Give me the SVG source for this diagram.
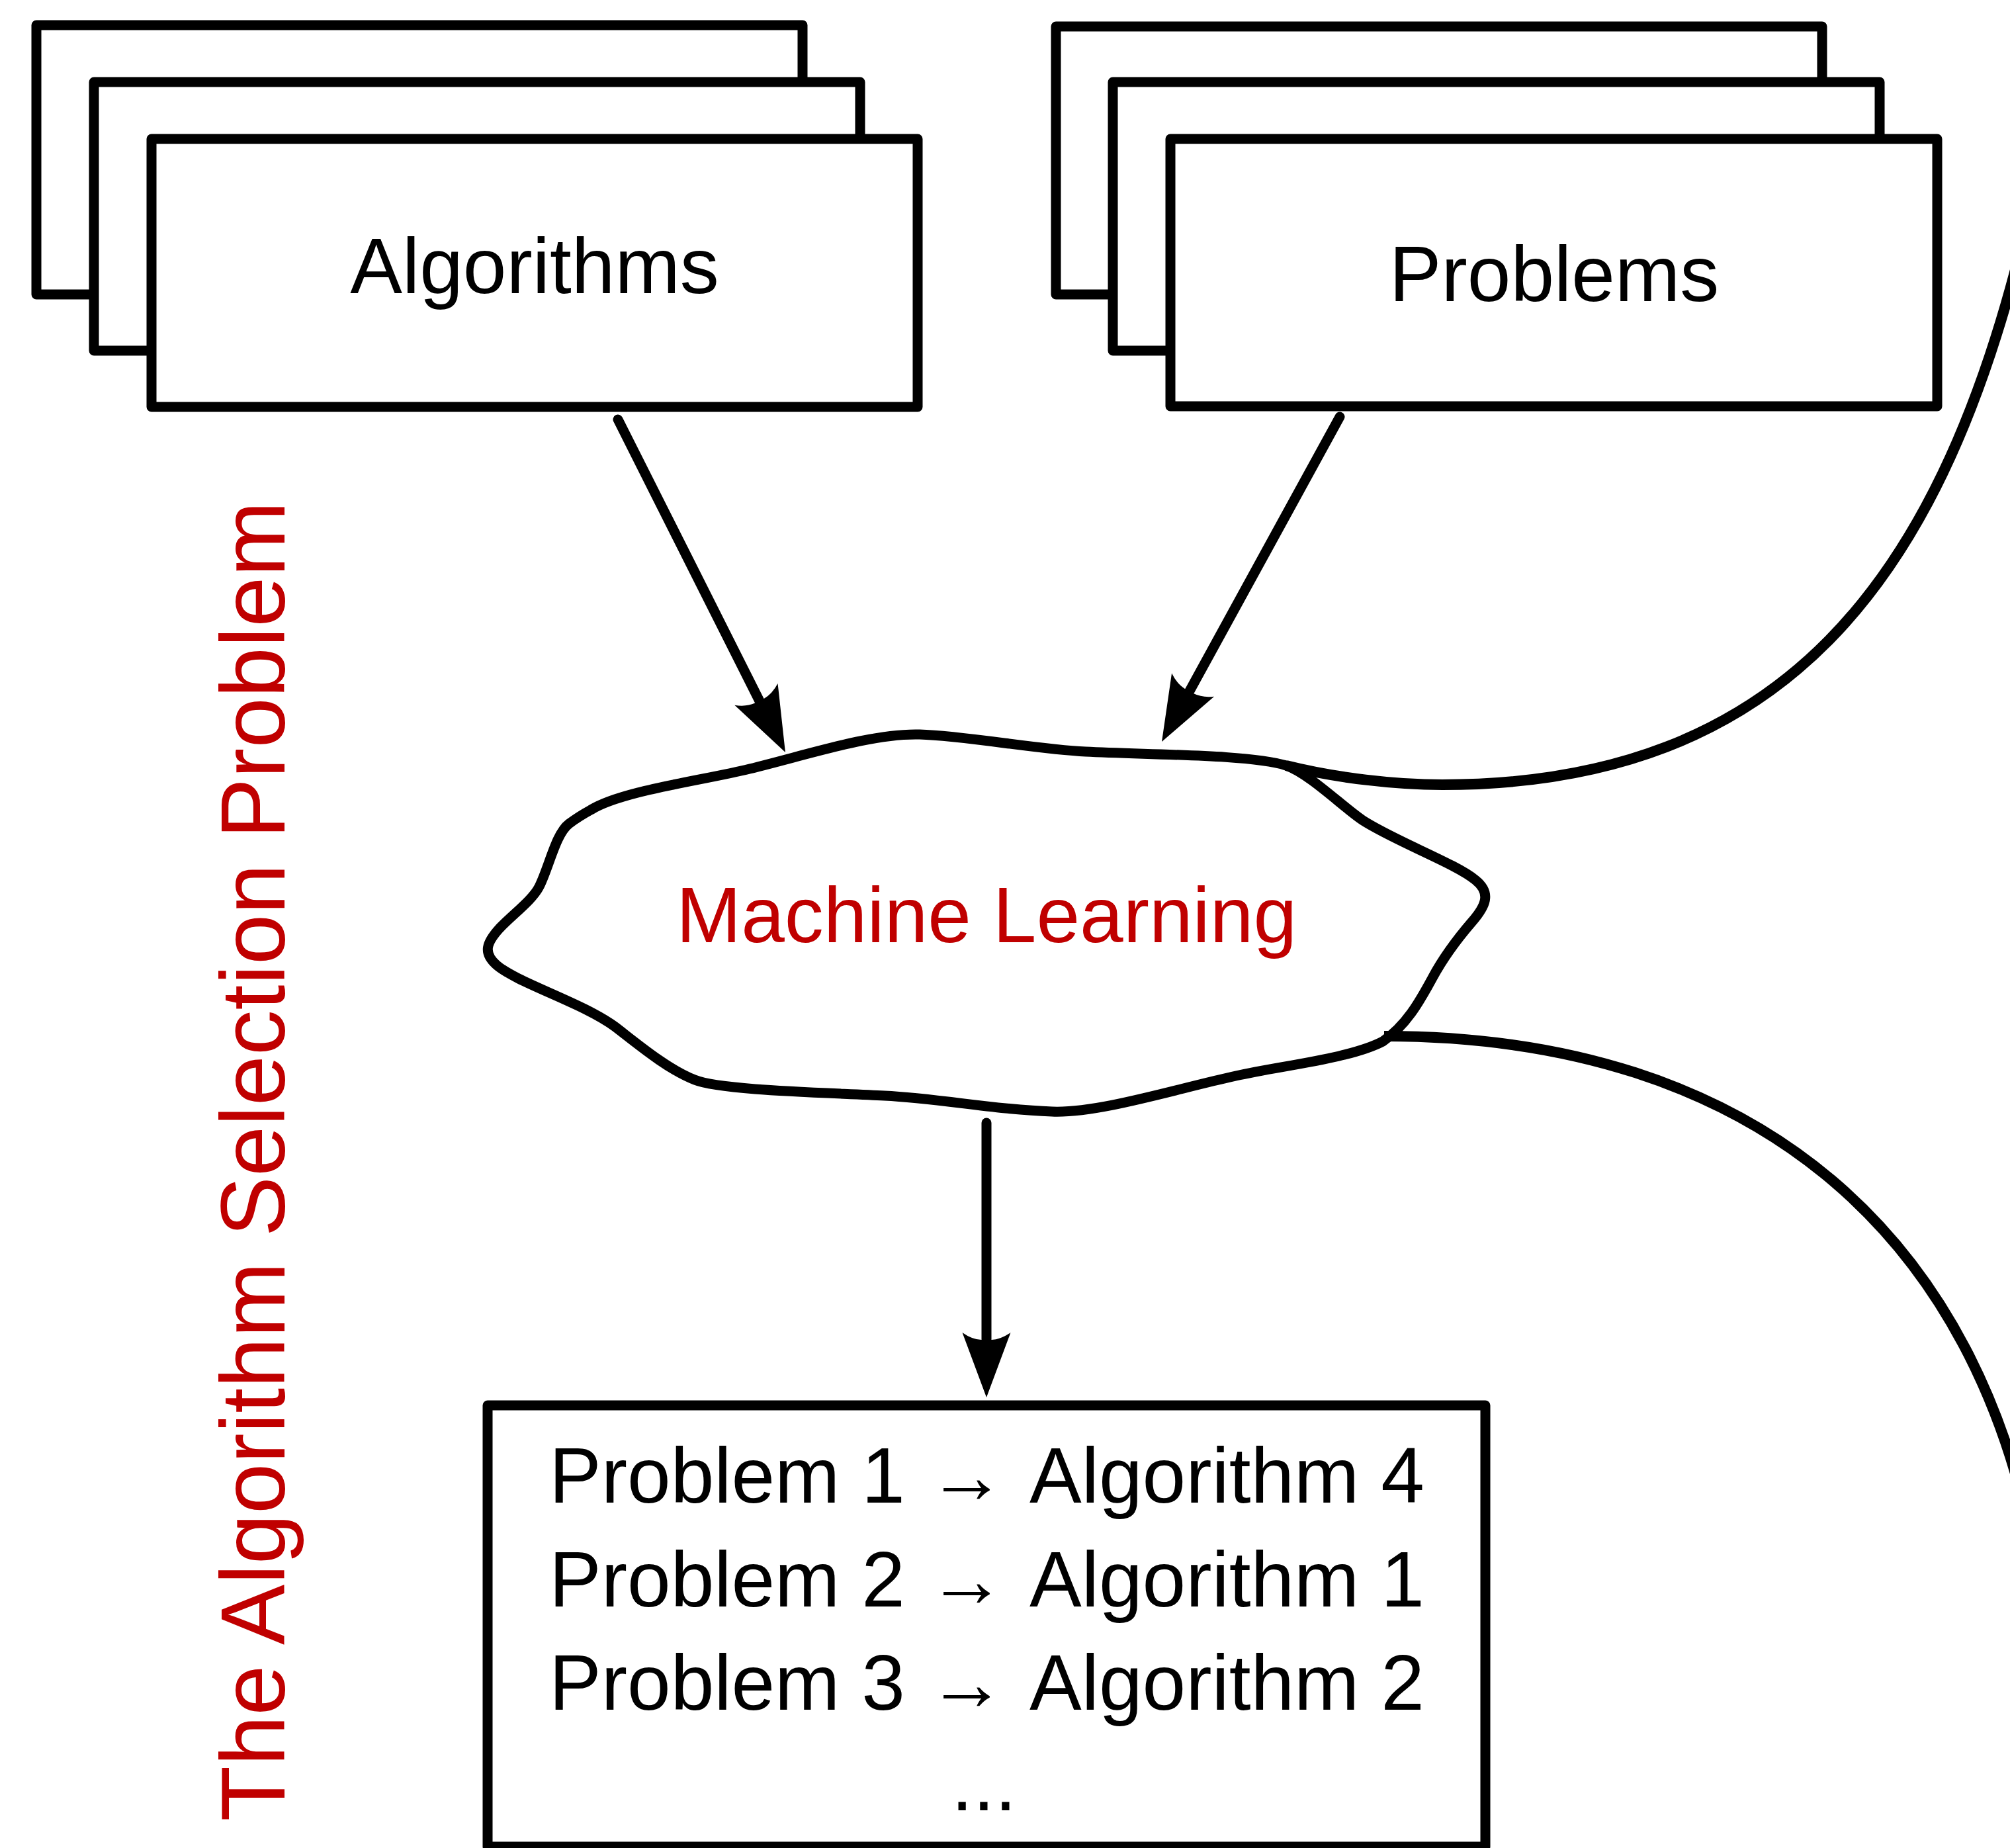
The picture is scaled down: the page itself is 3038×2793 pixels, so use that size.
<svg xmlns="http://www.w3.org/2000/svg" width="3038" height="2793" viewBox="0 0 3038 2793">
<style>
.box{fill:#fff;stroke:#000;stroke-width:15;stroke-linejoin:round}
.lbl{font-family:"Liberation Sans",Arial,sans-serif;font-size:118px;fill:#000}
.red{fill:#c00000}
.title{font-size:137px}
.edge{fill:none;stroke:#000;stroke-width:15;stroke-linecap:round}
.curve{fill:none;stroke:#000;stroke-width:16}
</style>
<defs>
<marker id="ah" markerUnits="userSpaceOnUse" viewBox="-100 -50 200 100" markerWidth="200" markerHeight="100" refX="0" refY="0" orient="auto" overflow="visible">
<path d="M50,0 L-48,-36.5 Q-37.5,-21.75 -37,-7.5 L-37,7.5 Q-37.5,21.75 -48,36.5 Z" fill="#000"/>
</marker>
</defs>
<rect width="3038" height="2793" fill="#fff"/>
<g id="algorithms">
<rect class="box" x="55" y="38" width="1158" height="407"/>
<rect class="box" x="142" y="124" width="1158" height="406"/>
<rect class="box" x="229" y="210" width="1158" height="405"/>
<text class="lbl" x="808" y="443" text-anchor="middle">Algorithms</text>
</g>
<g id="problems">
<rect class="box" x="1596" y="40" width="1158" height="405"/>
<rect class="box" x="1682" y="124" width="1159" height="406"/>
<rect class="box" x="1769" y="210" width="1159" height="404"/>
<text class="lbl" x="2349" y="455" text-anchor="middle">Problems</text>
</g>
<g id="machine-learning">
<path class="box" stroke-width="14" d="M893,1224 C940,1195 1060,1180 1133,1162 C1230,1138 1320,1108 1390,1110 C1460,1112 1570,1133 1641,1136 C1740,1141 1890,1140 1944,1157 C1980,1170 2030,1220 2060,1240 C2110,1272 2200,1305 2230,1330 C2255,1350 2245,1370 2225,1393 C2200,1422 2180,1450 2165,1478 C2145,1515 2125,1550 2090,1574 C2040,1600 1940,1610 1868,1626 C1780,1645 1660,1683 1590,1680 C1500,1677 1420,1660 1337,1656 C1240,1651 1090,1648 1050,1632 C1010,1617 960,1575 930,1552 C880,1515 780,1485 750,1458 C730,1440 735,1425 755,1403 C775,1382 805,1360 815,1340 C830,1310 840,1260 860,1245 C872,1236 882,1230 893,1224 Z"/>
<text class="lbl red" x="1491" y="1424" text-anchor="middle">Machine Learning</text>
</g>
<g id="mapping">
<rect class="box" x="737" y="2124" width="1508" height="667"/>
<text class="lbl" y="2271"><tspan x="830">Problem 1</tspan><tspan x="1461" text-anchor="middle">→</tspan><tspan x="1556">Algorithm 4</tspan></text>
<text class="lbl" y="2428"><tspan x="830">Problem 2</tspan><tspan x="1461" text-anchor="middle">→</tspan><tspan x="1556">Algorithm 1</tspan></text>
<text class="lbl" y="2584"><tspan x="830">Problem 3</tspan><tspan x="1461" text-anchor="middle">→</tspan><tspan x="1556">Algorithm 2</tspan></text>
<text class="lbl" x="1487" y="2736" text-anchor="middle">...</text>
</g>
<g id="title">
<text class="lbl red title" transform="translate(430,1755) rotate(-90)" text-anchor="middle">The Algorithm Selection Problem</text>
</g>
<g id="connectors">
<path class="edge" d="M934,634 L1164.5,1092.3" marker-end="url(#ah)"/>
<path class="edge" d="M2025,630 L1780,1077.2" marker-end="url(#ah)"/>
<path class="edge" d="M1491,1697 L1491,2062" marker-end="url(#ah)"/>
<path class="curve" d="M1944,1157 C2020,1176 2110,1186 2180,1186 C2700,1186 2928,870 3052,385 L3077,285"/>
<path class="curve" d="M2092,1566 C2650,1566 3008,1865 3085,2410"/>
</g>
</svg>
